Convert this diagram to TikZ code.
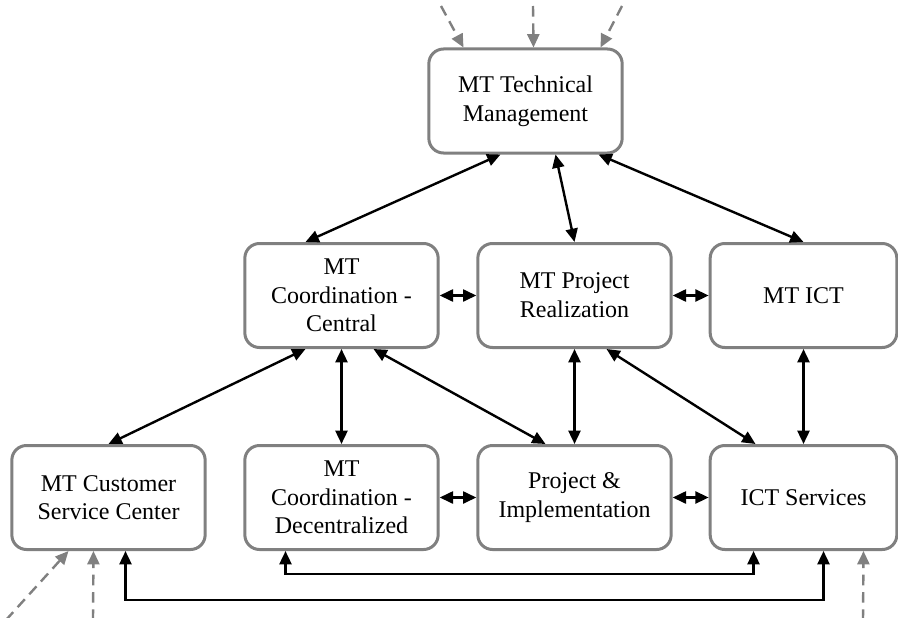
\documentclass[tikz,border=0pt]{standalone}
\usepackage{fontspec}
\setmainfont{Liberation Serif}
\usetikzlibrary{arrows.meta,calc}

\begin{document}
\begin{tikzpicture}[x=0.75pt,y=0.75pt,yscale=-1,xscale=1,
	unit/.style={draw={rgb,255:red,128;green,128;blue,128},line width=2.25pt,rounded corners=11pt,fill=white,
		minimum width=145pt,minimum height=78pt,align=center,inner sep=2pt,
		font=\fontsize{18}{21.5}\selectfont},
	link/.style={{Triangle[length=10pt,width=9pt]}-{Triangle[length=10pt,width=9pt]},line width=1.8pt,black},
	feed/.style={-{Triangle[length=10pt,width=9pt]},line width=1.8pt,dash pattern=on 8pt off 5pt,
		color={rgb,255:red,128;green,128;blue,128}}]
			%set diagram left start at 0, and has height of 617
			\useasboundingbox (0,0) rectangle (898,617);

			% Top row
			\node [unit] (tm) at (525.5,101) {MT Technical\\Management};
			% Middle row
			\node [unit] (cc) at (341.5,295.5) {MT\\Coordination -\\Central};
			\node [unit] (pr) at (574.5,295.5) {MT Project\\Realization};
			\node [unit,minimum width=140pt] (ict) at (803.5,295.5) {MT ICT};
			% Bottom row
			\node [unit] (cs) at (108.5,497.5) {MT Customer\\Service Center};
			\node [unit] (cd) at (341.5,497.5) {MT\\Coordination -\\Decentralized};
			\node [unit] (pi) at (574.5,497.5) {Project \&\\Implementation};
			\node [unit,minimum width=140pt] (ics) at (803.5,497.5) {ICT Services};

			% Free ends of the incoming lines
			\coordinate (in1) at (441,6);
			\coordinate (in2) at (533,6);
			\coordinate (in3) at (622,6);
			\coordinate (in4) at (6,620);
			\coordinate (in5) at (93,620);
			\coordinate (in6) at (863,620);

			%Incoming dashed lines
			\draw [feed] (in1) -- ($(tm.north)+(-62,0)$);
			\draw [feed] (in2) -- ($(tm.north)+(8,0)$);
			\draw [feed] (in3) -- ($(tm.north)+(75,0)$);
			\draw [feed] (in4) -- ($(cs.south)+(-40,0)$);
			\draw [feed] (in5) -- ($(cs.south)+(-15,0)$);
			\draw [feed] (in6) -- ($(ics.south)+(60,0)$);

			%Links from the top
			\draw [link] ($(tm.south)+(-25,0)$) -- ($(cc.north)+(-36,0)$);
			\draw [link] ($(tm.south)+(30,0)$) -- (pr.north);
			\draw [link] ($(tm.south)+(73,0)$) -- (ict.north);
			%Links in the middle row
			\draw [link] (cc.east) -- (pr.west);
			\draw [link] (pr.east) -- (ict.west);
			%Links down
			\draw [link] ($(cc.south)+(-36,0)$) -- (cs.north);
			\draw [link] (cc.south) -- (cd.north);
			\draw [link] ($(cc.south)+(32,0)$) -- ($(pi.north)+(-29,0)$);
			\draw [link] (pr.south) -- (pi.north);
			\draw [link] ($(pr.south)+(32,0)$) -- ($(ics.north)+(-48,0)$);
			\draw [link] (ict.south) -- (ics.north);
			%Links in the bottom row
			\draw [link] (cd.east) -- (pi.west);
			\draw [link] (pi.east) -- (ics.west);
			%Links underneath
			\draw [link] ($(cd.south)+(-56,0)$) -- ++(0,23) -| ($(ics.south)+(-50,0)$);
			\draw [link] ($(cs.south)+(17,0)$) -- ++(0,49) -| ($(ics.south)+(20,0)$);

		\end{tikzpicture}
\end{document}
